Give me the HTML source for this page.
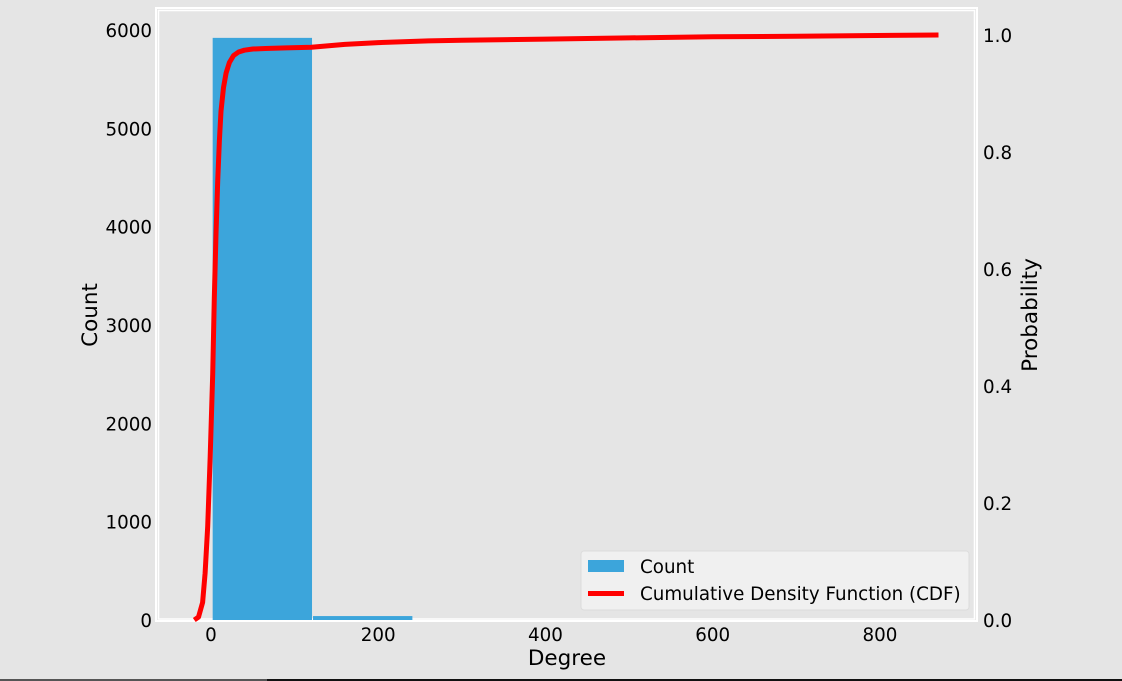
<!DOCTYPE html>
<html><head><meta charset="utf-8"><style>
html,body{margin:0;padding:0;background:#e5e5e5;}
svg{display:block;font-family:"DejaVu Sans","Liberation Sans",sans-serif;}
</style></head><body>
<svg width="1122" height="681" xmlns="http://www.w3.org/2000/svg">
<rect x="0" y="0" width="1122" height="681" fill="#e5e5e5"/>
<rect x="0" y="679" width="267" height="2" fill="#555"/>
<rect x="267" y="679" width="855" height="2" fill="#111"/>
<rect x="156" y="8" width="821" height="613" fill="#e5e5e5" stroke="#fff" stroke-width="2"/>
<rect x="158.5" y="10.5" width="816" height="608.5" fill="none" stroke="#fff" stroke-width="1.5"/>
<g id="bars"></g>
<g id="line"></g>
<g id="xticks"></g>
<g id="yticks"></g>
<g id="y2ticks"></g>
<text x="567" y="665" font-size="21.5" text-anchor="middle" fill="#000">Degree</text>
<text x="0" y="0" font-size="21.5" text-anchor="middle" fill="#000" transform="translate(97,315) rotate(-90)">Count</text>
<text x="0" y="0" font-size="21.5" text-anchor="middle" fill="#000" transform="translate(1037,315) rotate(-90)">Probability</text>
<g>
<rect x="581" y="551" width="388" height="59" rx="3" fill="#f0f0f0" stroke="#dcdcdc"/>
<rect x="588" y="560" width="36" height="12" fill="#3ca5db"/>
<text x="640" y="573" font-size="18.3" fill="#000">Count</text>
<rect x="588" y="591" width="36" height="5" fill="#ff0000"/>
<text x="640" y="600" font-size="18.3" fill="#000">Cumulative Density Function (CDF)</text>
</g>
</svg>
<script>
const binEdges=[2,122,242];
const binCounts=[5920,40];
const cdfX=[-20,-15,-10,-7,-4,-1,2,4,6,8,10,12,15,18,22,27,33,40,50,65,90,120,160,200,260,300,400,500,600,700,870];
const cdfY=[0,0.005,0.03,0.08,0.16,0.28,0.42,0.55,0.66,0.75,0.82,0.87,0.91,0.935,0.953,0.965,0.971,0.974,0.976,0.977,0.978,0.979,0.984,0.987,0.99,0.991,0.993,0.995,0.997,0.998,1.0];
const xTicks=[0,200,400,600,800];
const yTicks=[0,1000,2000,3000,4000,5000,6000];
const y2Ticks=[0,0.2,0.4,0.6,0.8,1.0];
const NS="http://www.w3.org/2000/svg";
const xs=v=>211+v*(669/800);
const ys=v=>620-v*(590/6000);
const y2=v=>620-v*585;
function mk(t,a,p){const e=document.createElementNS(NS,t);for(const k in a)e.setAttribute(k,a[k]);p.appendChild(e);return e;}
const bars=document.getElementById('bars');
binCounts.forEach((c,i)=>{
 const r=mk('rect',{x:xs(binEdges[i]),y:ys(c),width:xs(binEdges[i+1])-xs(binEdges[i])-1,height:ys(0)-ys(c),fill:'#3ca5db'},bars);
 
 
});
const lg=document.getElementById('line');
const path=mk('path',{d:cdfX.map((x,i)=>(i?'L':'M')+xs(x).toFixed(1)+','+y2(cdfY[i]).toFixed(1)).join(' '),fill:'none',stroke:'#ff0000','stroke-width':5,'stroke-linejoin':'round'},lg);


const xg=document.getElementById('xticks');
xTicks.forEach(t=>{const e=mk('text',{x:xs(t),y:641,'font-size':18.3,'text-anchor':'middle',fill:'#000'},xg);e.textContent=t;
 
 });
const yg=document.getElementById('yticks');
yTicks.forEach(t=>{const e=mk('text',{x:152,y:ys(t)+7,'font-size':18.3,'text-anchor':'end',fill:'#000'},yg);e.textContent=t;
 
 });
const y2g=document.getElementById('y2ticks');
y2Ticks.forEach(t=>{const e=mk('text',{x:983,y:y2(t)+7,'font-size':18.3,'text-anchor':'start',fill:'#000'},y2g);e.textContent=t.toFixed(1);
 
 });
</script>
</body></html>
